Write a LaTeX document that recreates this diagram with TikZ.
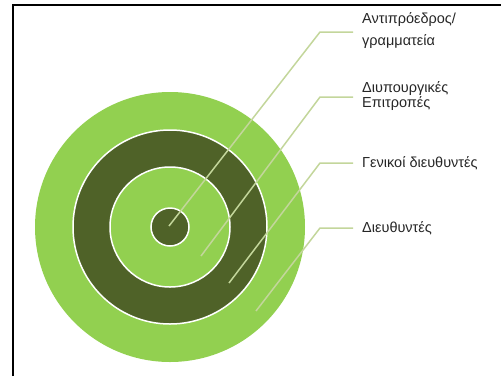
\documentclass[tikz,border=0pt]{standalone}
\usepackage{fontspec}
\setmainfont{Liberation Sans}
\usetikzlibrary{positioning}
\definecolor{lightgreen}{HTML}{92D050}
\definecolor{darkgreen}{HTML}{4F6228}
\definecolor{leadgreen}{HTML}{C3D69B}
\definecolor{textgray}{HTML}{262626}

\begin{document}
\begin{tikzpicture}[x=1pt, y=-1pt, font=\fontsize{14.5}{15}\selectfont,
  ring/.style={draw=white, line width=1.5pt},
  lead/.style={draw=leadgreen, line width=1.5pt},
  lab/.style={anchor=west, align=left, text=textgray, inner sep=0pt}]
\useasboundingbox (0,0) rectangle (501,376);
\draw[line width=2pt] (12.5,376) -- (12.5,4.5) -- (501,4.5);
% target rings
\fill[lightgreen] (170,227) circle (135pt);
\draw[ring, fill=darkgreen] (170,227) circle (97pt);
\draw[ring, fill=lightgreen] (170,227) circle (60pt);
\draw[ring, fill=darkgreen] (170,227) circle (19pt);
% labels
\node[lab, font=\fontsize{14.5}{22}\selectfont] (vice) at (362,31) {Αντιπρόεδρος/\\γραμματεία};
\node[lab] (inter) at (362,96) {Διυπουργικές\\Επιτροπές};
\node[lab] (gen) at (362,163) {Γενικοί διευθυντές};
\node[lab] (dir) at (362,228) {Διευθυντές};
% leader lines
\coordinate (p1) at (169,226);
\coordinate (p2) at (201,256);
\coordinate (p3) at (229,283);
\coordinate (p4) at (256,311);
\coordinate (k1) at (320,32);
\coordinate (k2) at (320,97);
\coordinate (k3) at (320,163);
\coordinate (k4) at (320,228);
\draw[lead] (p1) -- (k1) -- ([xshift=-9pt]vice.west |- k1);
\draw[lead] (p2) -- (k2) -- ([xshift=-9pt]inter.west |- k2);
\draw[lead] (p3) -- (k3) -- ([xshift=-9pt]gen.west |- k3);
\draw[lead] (p4) -- (k4) -- ([xshift=-9pt]dir.west |- k4);
\end{tikzpicture}
\end{document}
